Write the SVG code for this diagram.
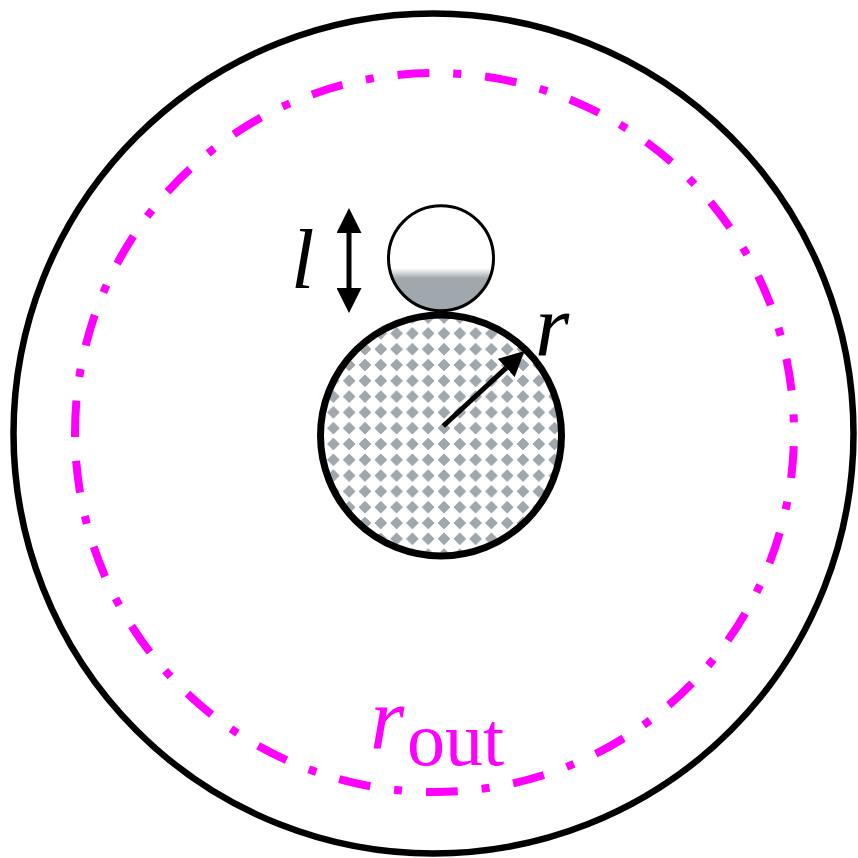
<svg xmlns="http://www.w3.org/2000/svg" width="858" height="858" viewBox="0 0 858 858">
  <style>
    .blk { fill: none; stroke: #000; }
    .arrow { stroke: #000; stroke-width: 5; fill: none; marker-end: url(#head); }
    .math { font-family: "Liberation Serif", "DejaVu Serif", serif; font-style: italic; }
    .up { font-family: "Liberation Serif", "DejaVu Serif", serif; font-style: normal; }
  </style>
  <defs>
    <pattern id="dots" patternUnits="userSpaceOnUse" x="436.1" y="436.1" width="15.8" height="15.8">
      <polygon points="7.9,1.4 14.4,7.9 7.9,14.4 1.4,7.9" fill="#a0a8ad" shape-rendering="crispEdges"/>
    </pattern>
    <linearGradient id="liquid" x1="0" y1="0" x2="0" y2="1">
      <stop offset="0" stop-color="#ffffff"/>
      <stop offset="0.595" stop-color="#ffffff"/>
      <stop offset="0.69" stop-color="#a0a8ad"/>
      <stop offset="1" stop-color="#a0a8ad"/>
    </linearGradient>
    <marker id="head" viewBox="0 0 25 25" refX="0" refY="12.5" markerWidth="25" markerHeight="25" markerUnits="userSpaceOnUse" orient="auto-start-reverse">
      <path d="M0,0 L25,12.5 L0,25 Z" fill="#000"/>
    </marker>
  </defs>

  <rect x="0" y="0" width="858" height="858" fill="#fff"/>

  <g id="outer-boundary">
    <circle cx="433.5" cy="433.5" r="420" class="blk" stroke-width="6.5"/>
  </g>

  <g id="rout-circle">
    <path d="M75,432.5 A359.5,359.5 0 1 1 794,432.5 A359.5,359.5 0 1 1 75,432.5" fill="none" stroke="#ff00ff" stroke-width="8" stroke-dasharray="31.9 24 8 24"/>
  </g>

  <g id="small-circle">
    <circle cx="441" cy="258.3" r="52.5" fill="url(#liquid)" stroke="#000" stroke-width="3"/>
  </g>

  <g id="center-circle">
    <circle cx="441" cy="435.5" r="120.5" fill="url(#dots)" stroke="#000" stroke-width="7"/>
  </g>

  <g id="connectors">
    <path d="M349,233 L349,288" class="arrow" style="marker-start:url(#head)"/>
    <path d="M443.3,426 L506.2,367.9" class="arrow"/>
  </g>

  <g id="labels">
    <text class="math" x="291" y="288" font-size="84">l</text>
    <text class="math" x="535" y="355" font-size="88">r</text>
    <text x="370" y="748" fill="#ff00ff"><tspan class="math" font-size="88">r</tspan><tspan class="up" x="407" y="765" font-size="76">out</tspan></text>
  </g>
</svg>
